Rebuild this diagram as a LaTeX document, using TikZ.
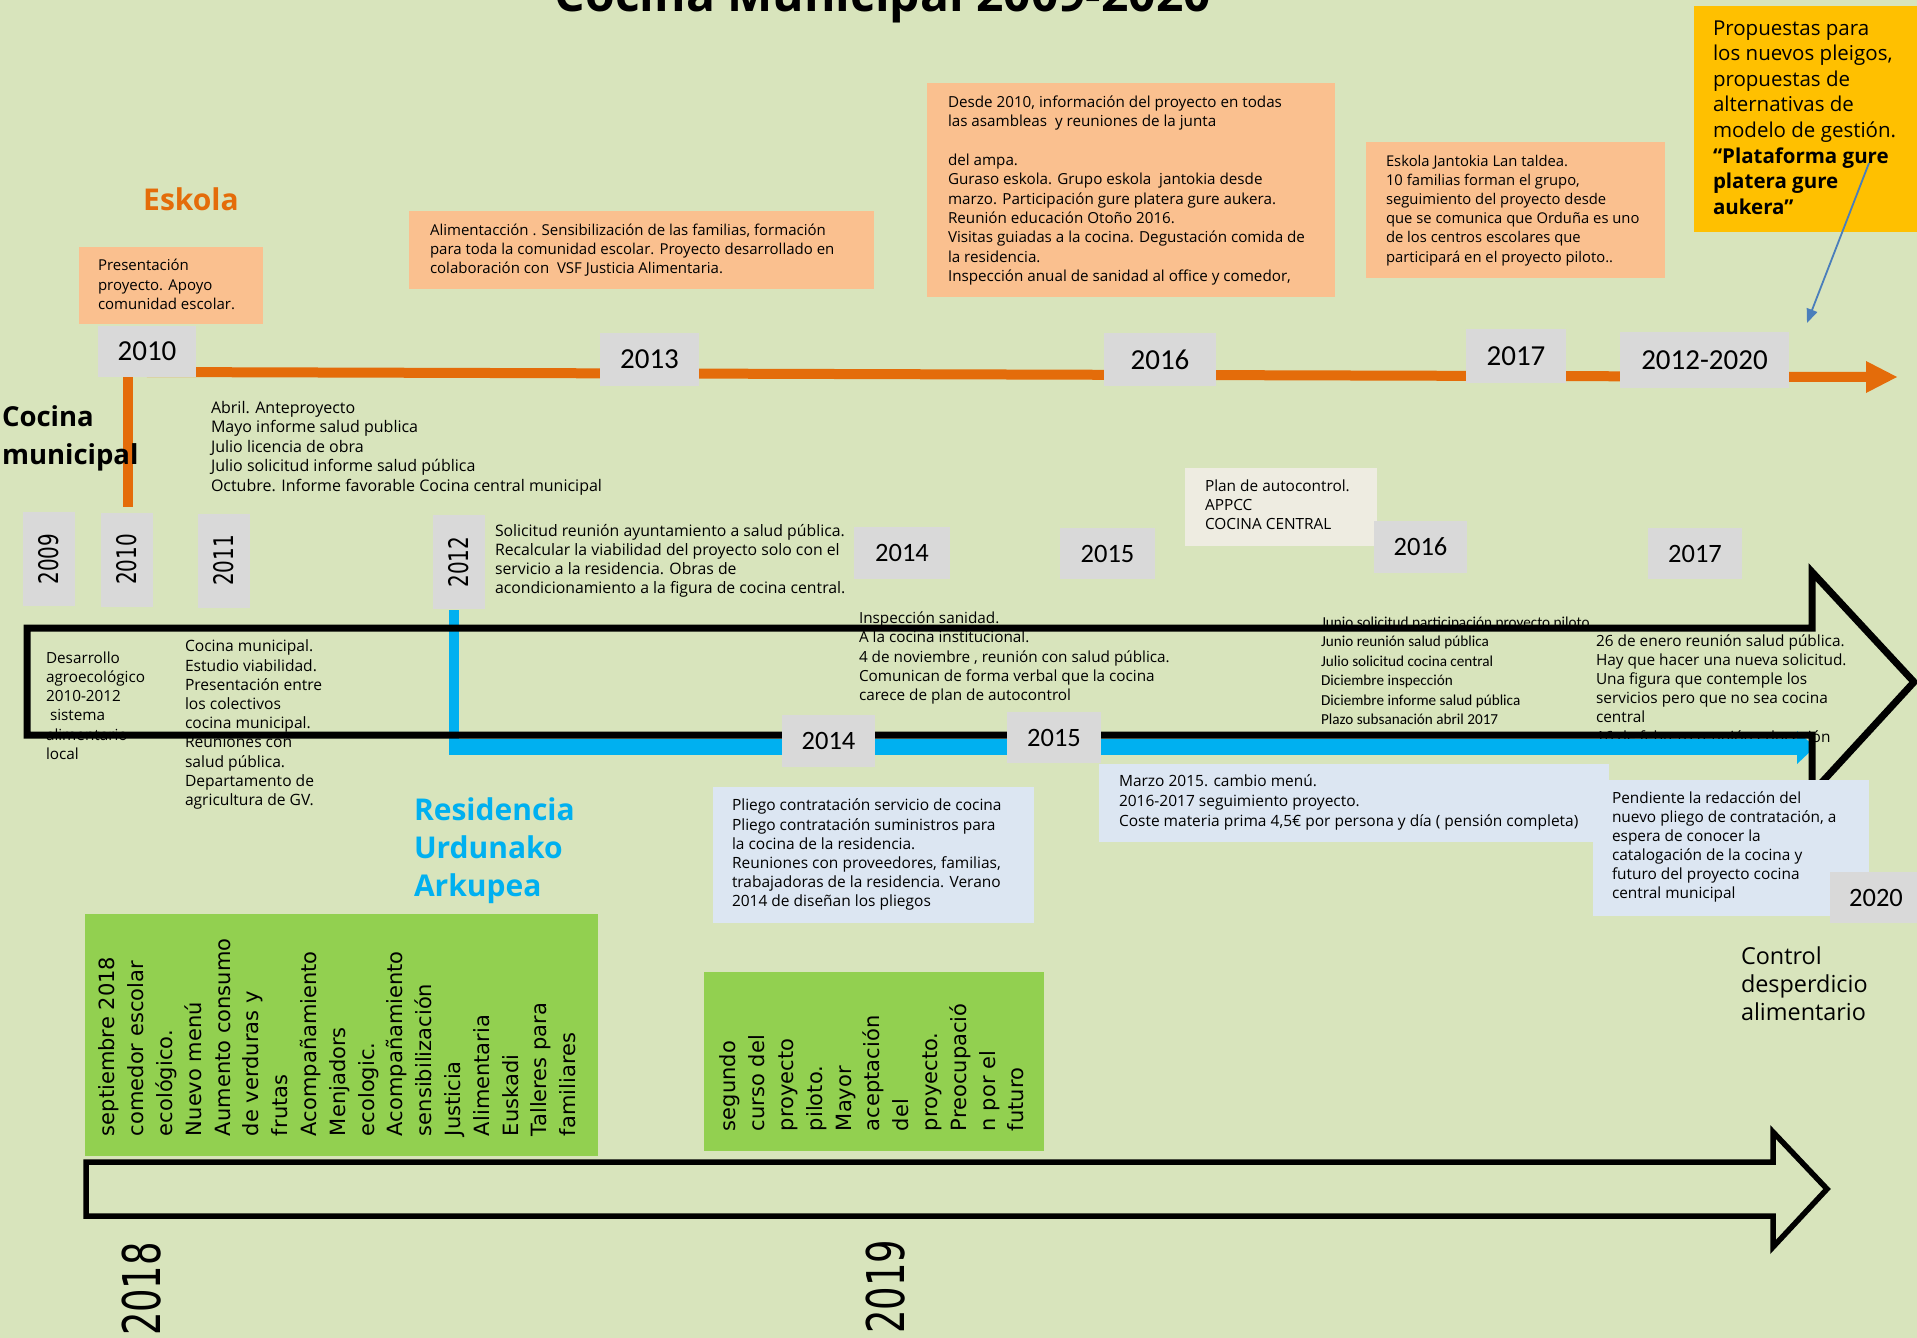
\documentclass[tikz,border=0pt]{standalone}
\usepackage{fontspec}
\usetikzlibrary{arrows.meta}
\newfontfamily\cs{Open Sans}
\newfontfamily\calib{Carlito}
\newfontfamily\verd{DejaVu Sans}
\newcommand\fsz[2]{\fontsize{#1}{#2}\selectfont}
\definecolor{bgc}{HTML}{D8E4BC}
\definecolor{peachc}{HTML}{FAC08F}
\definecolor{orangec}{HTML}{E46C0A}
\definecolor{greyc}{HTML}{D9D9D9}
\definecolor{lbluec}{HTML}{DCE6F2}
\definecolor{creamc}{HTML}{EEECE1}
\definecolor{greenc}{HTML}{92D050}
\definecolor{yellowc}{HTML}{FFC000}
\definecolor{bluec}{HTML}{00B0F0}
\definecolor{thinbluec}{HTML}{4A7EBB}
\begin{document}
\begin{tikzpicture}[x=1pt,y=-1pt,
  greybox/.style={fill=greyc, inner sep=0, text=black},
  yrA/.style={greybox, font=\calib\fsz{29}{29}},
  yrB/.style={greybox, font=\calib\fsz{26.5}{26.5}},
  yrV/.style={greybox, rotate=90, minimum width=94, minimum height=52, font=\verd\fsz{27}{27}},
  blk/.style={inner sep=0, outer sep=0, align=left, anchor=north west},
  gtext/.style={blk, rotate=90, font=\verd\fsz{21}{28.8}},
  bigyr/.style={inner sep=0, rotate=90, font=\verd\fsz{52}{52}},
  thickline/.style={line width=7, line join=miter, miter limit=10},
]
\useasboundingbox (0,0) rectangle (1917,1338);
\clip (0,0) rectangle (1917,1338);
\fill[bgc] (0,0) rectangle (1917,1338);

% ---------- panels ----------
\fill[peachc] (79,247) rectangle (263,324);
\fill[peachc] (409,211) rectangle (874,289);
\fill[peachc] (927,83) rectangle (1335,297);
\fill[peachc] (1366,142) rectangle (1665,278);
\fill[yellowc] (1694,6) rectangle (1930,232);
\fill[creamc] (1185,468) rectangle (1377,546);
\fill[lbluec] (713,787) rectangle (1034,923);
\fill[lbluec] (1099,764) rectangle (1609,842);
\fill[greenc] (85,914) rectangle (598,1156);
\fill[greenc] (704,972) rectangle (1044,1151);

% ---------- orange timeline ----------
\coordinate (oStart) at (147,372);
\coordinate (oEnd) at (1868,377);
\coordinate (oDown) at (128,507);
\draw[orangec, line width=10] (oStart) -- (oEnd);
\fill[orangec] (1866,361) -- (1897,377) -- (1866,393) -- cycle;
\draw[orangec, line width=10] (128,377) -- (oDown);

% ---------- title and labels ----------
\node[inner sep=0, anchor=base, font=\cs\bfseries\fsz{48}{48}] (title) at (883,12) {Cocina Municipal 2009-2020};
\node[inner sep=0, anchor=base west, text=orangec, font=\cs\bfseries\fsz{30}{30}] (eskola) at (143,210) {Eskola};
\node[blk, font=\cs\bfseries\fsz{27.5}{38}] (cocinalbl) at (2,406) {Cocina\\municipal};
\node[blk, text=bluec, font=\cs\bfseries\fsz{30}{38}] (resid) at (414,798) {Residencia\\Urdunako\\Arkupea};

% ---------- text blocks ----------
\node[blk, font=\cs\fsz{15}{19.5}] (pres) at (98,259.5) {Presentación\\proyecto. Apoyo\\comunidad escolar.};
\node[blk, font=\cs\fsz{15}{19}] (alim) at (430,224.5) {Alimentacción . Sensibilización de las familias, formación\\para toda la comunidad escolar. Proyecto desarrollado en\\colaboración con\ \ VSF Justicia Alimentaria.};
\node[blk, font=\cs\fsz{15.2}{19.4}] (desde) at (948,95.5) {Desde 2010, información del proyecto en todas\\las asambleas\ \ y reuniones de la junta\\[19.4pt]del ampa.\\Guraso eskola. Grupo eskola\ \ jantokia desde\\marzo. Participación gure platera gure aukera.\\Reunión educación Otoño 2016.\\Visitas guiadas a la cocina. Degustación comida de\\la residencia.\\Inspección anual de sanidad al office y comedor,};
\node[blk, font=\cs\fsz{14.8}{19.2}] (eskj) at (1386,154.8) {Eskola Jantokia Lan taldea.\\10 familias forman el grupo,\\seguimiento del proyecto desde\\que se comunica que Orduña es uno\\de los centros escolares que\\participará en el proyecto piloto..};
\node[blk, font=\cs\fsz{20.5}{25.6}] (prop) at (1713,20.5) {Propuestas para\\los nuevos pleigos,\\propuestas de\\alternativas de\\modelo de gestión.\\\textbf{“Plataforma gure}\\\textbf{platera gure}\\\textbf{aukera”}};
\node[blk, font=\cs\fsz{16}{19.5}] (abril) at (211,401) {Abril. Anteproyecto\\Mayo informe salud publica\\Julio licencia de obra\\Julio solicitud informe salud pública\\Octubre. Informe favorable Cocina central municipal};
\node[blk, font=\cs\fsz{15.8}{19}] (solic) at (495,524) {Solicitud reunión ayuntamiento a salud pública.\\Recalcular la viabilidad del proyecto solo con el\\servicio a la residencia. Obras de\\acondicionamiento a la figura de cocina central.};
\node[blk, font=\cs\fsz{15.4}{19}] (plan) at (1205,480) {Plan de autocontrol.\\APPCC\\COCINA CENTRAL};
\node[blk, font=\cs\fsz{15.3}{19.2}] (insp) at (859,612) {Inspección sanidad.\\A la cocina institucional.\\4 de noviembre , reunión con salud pública.\\Comunican de forma verbal que la cocina\\carece de plan de autocontrol};
\node[blk, font=\calib\fsz{15.2}{19.5}] (junio) at (1321,616.5) {Junio solicitud participación proyecto piloto\\Junio reunión salud pública\\Julio solicitud cocina central\\Diciembre inspección\\Diciembre informe salud pública\\Plazo subsanación abril 2017};
\node[blk, font=\cs\fsz{15.4}{19.2}] (enero) at (1596,634.3) {26 de enero reunión salud pública.\\Hay que hacer una nueva solicitud.\\Una figura que contemple los\\servicios pero que no sea cocina\\central\\16 de febrero reunión educación};
\node[blk, font=\cs\fsz{15.3}{19.3}] (desarr) at (46,651.4) {Desarrollo\\agroecológico\\2010-2012\\\hspace*{4pt}sistema\\alimentario\\local};
\node[blk, font=\cs\fsz{15.6}{19.2}] (cocinam) at (185,640) {Cocina municipal.\\Estudio viabilidad.\\Presentación entre\\los colectivos\\cocina municipal.\\Reuniones con\\salud pública.\\Departamento de\\agricultura de GV.};
\node[blk, font=\cs\fsz{15.5}{19.2}] (pliego) at (732,799) {Pliego contratación servicio de cocina\\Pliego contratación suministros para\\la cocina de la residencia.\\Reuniones con proveedores, familias,\\trabajadoras de la residencia. Verano\\2014 de diseñan los pliegos};
\node[blk, font=\cs\fsz{15.5}{20}] (marzo) at (1119,775) {Marzo 2015. cambio menú.\\2016-2017 seguimiento proyecto.\\Coste materia prima 4,5€ por persona y día ( pensión completa)};
\node[blk, font=\cs\fsz{23.4}{28}] (control) at (1741,947) {Control\\desperdicio\\alimentario};

% green rotated texts
\node[gtext] (green1) at (99,1136) {septiembre 2018\\comedor escolar\\ecológico.\\Nuevo menú\\Aumento consumo\\de verduras y\\frutas\\Acompañamiento\\Menjadors\\ecologic.\\Acompañamiento\\sensibilización\\Justicia\\Alimentaria\\Euskadi\\Talleres para\\familiares};
\node[gtext] (green2) at (720,1131) {segundo\\curso del\\proyecto\\piloto.\\Mayor\\aceptación\\del\\proyecto.\\Preocupació\\n por el\\futuro};

% ---------- vertical year boxes ----------
\node[yrV] (v2009) at (49,559) {\scalebox{0.74}[1]{2009}};
\node[yrV] (v2010) at (127,559.5) {\scalebox{0.74}[1]{2010}};
\node[yrV] (v2011) at (224,560.5) {\scalebox{0.74}[1]{2011}};
\node[yrV] (v2012) at (459,562) {\scalebox{0.74}[1]{2012}};

% ---------- blue residencia line ----------
\coordinate (bTurn) at (454,747);
\coordinate (bEnd) at (1815,747);
\fill[bluec] (449,610) rectangle (459,755);
\fill[bluec] (449,739) rectangle (1800,755);
\fill[bluec] (1797,731) -- (bEnd) -- (1797,764) -- cycle;

% ---------- big black arrows ----------
\draw[thickline] (27,628) -- (1812,628) -- (1812,572) -- (1914,682) -- (1812,793) -- (1812,735) -- (27,735) -- cycle;
\draw[thickline, line width=5.5] (86,1162) -- (1773,1162) -- (1773,1132) -- (1827,1189) -- (1773,1247) -- (1773,1216) -- (86,1216) -- cycle;

% ---------- upper row year boxes (orange line) ----------
\node[yrA, minimum width=98, minimum height=51] (y10a) at (147,351.5) {2010};
\node[yrA, minimum width=99, minimum height=53] (y13) at (649.5,359.5) {2013};
\node[yrA, minimum width=112, minimum height=53] (y16a) at (1160,359.5) {2016};
\node[yrA, minimum width=100, minimum height=54] (y17a) at (1516,356) {2017};
\node[yrA, minimum width=169, minimum height=56] (y1220) at (1704.5,360) {2012-2020};

% ---------- middle row year boxes ----------
\node[yrB, minimum width=96, minimum height=52] (y14u) at (902,553) {2014};
\node[yrB, minimum width=95, minimum height=51] (y15u) at (1107.5,553.5) {2015};
\node[yrB, minimum width=93, minimum height=52] (y16u) at (1420.5,547) {2016};
\node[yrB, minimum width=94, minimum height=51] (y17u) at (1695,553.5) {2017};
\node[yrB, minimum width=93, minimum height=52] (y14l) at (828.5,741) {2014};
\node[yrB, minimum width=94, minimum height=51] (y15l) at (1054,737.5) {2015};

% ---------- pendiente (over arrow) ----------
\fill[lbluec] (1593,780) rectangle (1869,916);
\node[blk, font=\cs\fsz{15.4}{19}] (pend) at (1612,792) {Pendiente la redacción del\\nuevo pliego de contratación, a\\espera de conocer la\\catalogación de la cocina y\\futuro del proyecto cocina\\central municipal};
\node[yrB, minimum width=92, minimum height=51] (y20) at (1876,897.5) {2020};

% ---------- bottom years ----------
\node[bigyr] (b2018) at (141.5,1289) {\scalebox{0.71}[1]{2018}};
\node[bigyr] (b2019) at (885.5,1286.5) {\scalebox{0.71}[1]{2019}};

% ---------- thin arrow from proposals ----------
\coordinate (pArrow) at (1869,163);
\coordinate (pTarget) at (1807,323);
\draw[thinbluec, line width=1.8, -{Triangle[length=14,width=11]}] (pArrow) -- (pTarget);
\end{tikzpicture}
\end{document}
